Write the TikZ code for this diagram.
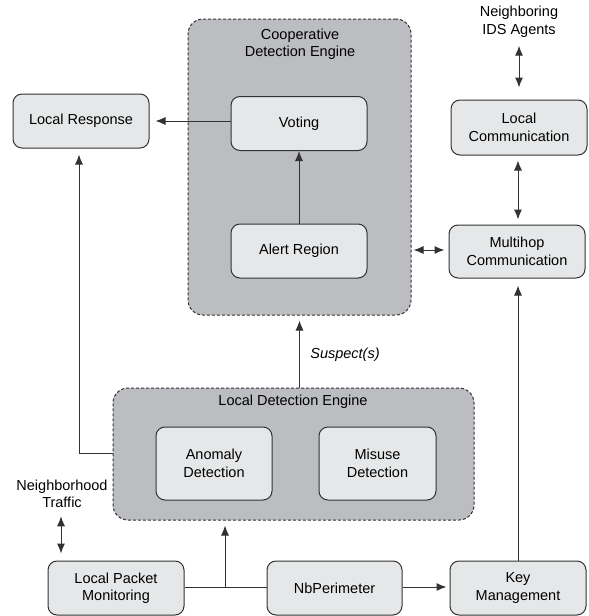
\documentclass[tikz,border=0pt]{standalone}
\usepackage{fontspec}
\setmainfont{Liberation Sans}
\usepackage{tikz}
\usetikzlibrary{arrows.meta,shapes,calc,positioning}
\definecolor{enginegray}{RGB}{188,189,192}
\definecolor{blockgray}{RGB}{230,231,232}
\definecolor{linegray}{RGB}{50,50,50}
\tikzstyle{block}=[rectangle,draw=linegray,fill=blockgray,line width=1pt,rounded corners=9pt,minimum width=136pt,minimum height=54pt,align=center,inner sep=0pt]
\tikzstyle{engine}=[rectangle,draw=linegray,fill=enginegray,line width=1pt,dash pattern=on 3pt off 2pt,rounded corners=15pt,inner sep=0pt]
\tikzstyle{label}=[align=center,inner sep=1pt]
\tikzstyle{link}=[draw=linegray,line width=1pt,>={Latex[length=10pt,width=8pt]}]

\begin{document}
\begin{tikzpicture}[x=1pt,y=-1pt,font=\fontsize{14.5}{17.5}\selectfont]
	\useasboundingbox (0,0) rectangle (589,616);
	% engines
	\node[engine,minimum width=223pt,minimum height=296pt] (coop) at (299.5,167) {};
	\node[label] (cooptitle) at (300,44) {Cooperative\\Detection Engine};
	\node[engine,minimum width=361pt,minimum height=132pt] (local) at (293.5,454) {};
	\node[label] (localtitle) at (293,402) {Local Detection Engine};
	% blocks
	\node[block] (voting) at (299,123.5) {Voting};
	\node[block] (alert) at (299,251) {Alert Region};
	\node[block] (response) at (81,121) {Local Response};
	\node[block,minimum height=55pt] (localcomm) at (519,127.5) {Local\\Communication};
	\node[block,minimum height=53pt] (multihop) at (517,251.5) {Multihop\\Communication};
	\node[block,minimum width=116pt,minimum height=73pt] (anomaly) at (214,463.5) {Anomaly\\Detection};
	\node[block,minimum width=117pt,minimum height=73pt] (misuse) at (377.5,463.5) {Misuse\\Detection};
	\node[block] (packet) at (116,588) {Local Packet\\Monitoring};
	\node[block,minimum width=135pt] (perimeter) at (334.5,588) {NbPerimeter};
	\node[block] (keys) at (518,588) {Key\\Management};
	% free texts
	\node[label] (agents) at (519,22) {Neighboring\\IDS Agents};
	\node[label] (traffic) at (62,494) {Neighborhood\\Traffic};
	\node[label,font=\fontsize{14.5}{17.5}\selectfont\itshape] (suspects) at (345,355) {Suspect(s)};
	\coordinate (junction) at (225,587);
	% connectors
	\draw[link,->,shorten >=6pt] (voting.west |- 0,121) -- (response.east |- 0,121);
	\draw[link,->] (alert.north) -- (voting.south);
	\draw[link,->,shorten >=6pt] (local.west |- 0,453) -| (response.south -| 79,0);
	\draw[link,->,shorten >=5pt] (coop.south |- local.north) -- (coop.south);
	\draw[link,<->,shorten <=7pt,shorten >=12pt] (agents.south) -- (agents.south |- localcomm.north);
	\draw[link,<->,shorten <=5pt,shorten >=5pt] (localcomm.south -| 518,0) -- (multihop.north -| 518,0);
	\draw[link,<->,shorten <=2pt,shorten >=4pt] (coop.east |- 0,250) -- (multihop.west |- 0,250);
	\draw[link,->,shorten >=7pt] (keys.north) -- (multihop.south -| keys.north);
	\draw[link,<->,shorten <=7pt,shorten >=7pt] (traffic.south -| 61,0) -- (packet.north -| 61,0);
	\draw[link] (packet.east |- junction) -- (perimeter.west |- junction);
	\draw[link,->,shorten >=5pt] (junction) -- (junction |- local.south);
	\draw[link,->,shorten >=3pt] (perimeter.east |- junction) -- (keys.west |- junction);
\end{tikzpicture}
\end{document}
